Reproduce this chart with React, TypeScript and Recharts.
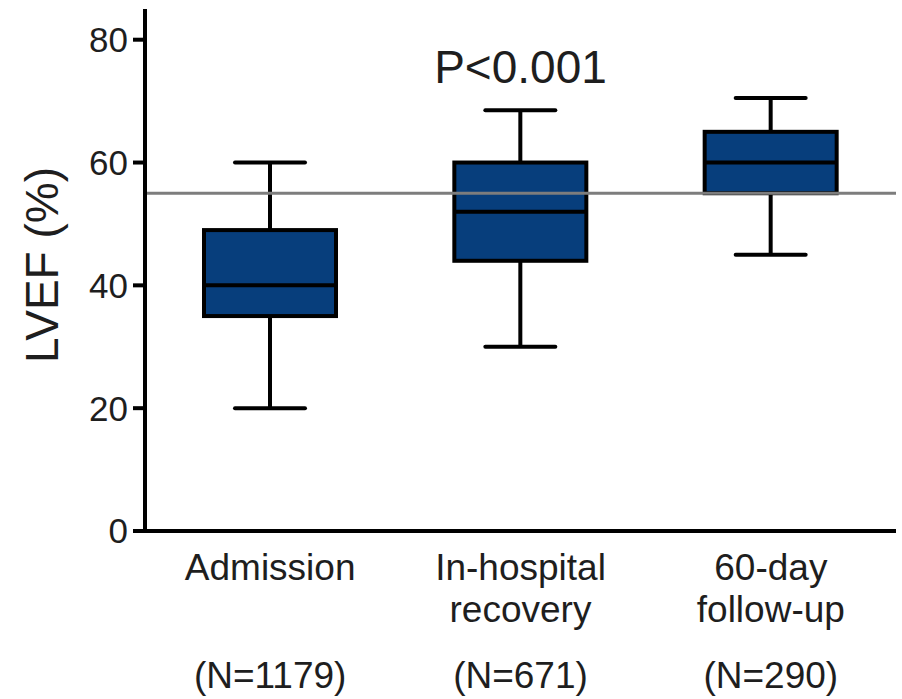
import { BarChart, Bar, XAxis, YAxis, ReferenceLine, ReferenceDot } from 'recharts';

const categories = ['Admission', 'In-hospital\nrecovery', '60-day\nfollow-up'];
const nLabels = ['(N=1179)', '(N=671)', '(N=290)'];
const whiskerLow = [20, 30, 45];
const q1 = [35, 44, 55];
const median = [40, 52, 60];
const q3 = [49, 60, 65];
const whiskerHigh = [60, 68.5, 70.5];
const yTicks = [0, 20, 40, 60, 80];
const normalLimit = 55;

const FONT = '"Liberation Sans", Arial, Helvetica, sans-serif';
const BOX_FILL = '#073e7c';

const data = categories.map((name, i) => ({
    name,
    range: [whiskerLow[i], whiskerHigh[i]],
    q1: q1[i],
    median: median[i],
    q3: q3[i],
    low: whiskerLow[i],
    high: whiskerHigh[i],
}));

// range bar gives y (top = high) and height (down to low); map the other stats along it
function BoxShape(props: any) {
    const { x, y, width, height, payload } = props;
    const { low, high } = payload;
    const toY = (v: number) => y + ((high - v) / (high - low)) * height;
    const cx = x + width / 2;
    const capHalf = 35;
    const yHigh = toY(high);
    const yLow = toY(low);
    const yQ3 = toY(payload.q3);
    const yQ1 = toY(payload.q1);
    const yMed = toY(payload.median);
    return (
        <g>
            <line x1={cx} x2={cx} y1={yHigh} y2={yQ3} stroke="#000" strokeWidth={4} />
            <line x1={cx} x2={cx} y1={yQ1} y2={yLow} stroke="#000" strokeWidth={4} />
            <line x1={cx - capHalf} x2={cx + capHalf} y1={yHigh} y2={yHigh} stroke="#000" strokeWidth={4} strokeLinecap="round" />
            <line x1={cx - capHalf} x2={cx + capHalf} y1={yLow} y2={yLow} stroke="#000" strokeWidth={4} strokeLinecap="round" />
            <rect x={x} y={yQ3} width={width} height={yQ1 - yQ3} fill={BOX_FILL} stroke="#000" strokeWidth={4} />
            <line x1={x} x2={x + width} y1={yMed} y2={yMed} stroke="#000" strokeWidth={4} />
        </g>
    );
}

function XTick(props: any) {
    const { x, y, payload } = props;
    const idx = categories.indexOf(payload.value);
    const lines = String(payload.value).split('\n');
    return (
        <g>
            {lines.map((l, i) => (
                <text key={i} x={x} y={y + 49 + i * 42} textAnchor="middle" fontSize={37} fontFamily={FONT} fill="#1e1e1e">
                    {l}
                </text>
            ))}
            <text x={x} y={y + 157} textAnchor="middle" fontSize={37} fontFamily={FONT} fill="#1e1e1e">
                {nLabels[idx]}
            </text>
        </g>
    );
}

function YLabel(props: any) {
    const { viewBox } = props;
    const cx = viewBox.x + 58;
    const cy = viewBox.y + viewBox.height / 2 - 5;
    return (
        <text x={cx} y={cy} transform={`rotate(-90 ${cx} ${cy})`} textAnchor="middle" fontSize={46} fontFamily={FONT} fill="#1e1e1e">
            LVEF (%)
        </text>
    );
}

function PLabel(props: any) {
    const { viewBox } = props;
    return (
        <text x={viewBox.x} y={viewBox.y} textAnchor="middle" fontSize={46} fontFamily={FONT} fill="#1e1e1e">
            P&lt;0.001
        </text>
    );
}

export default function App() {
    return (
        <div style={{ position: 'absolute', left: 0, top: 0, width: 902, height: 699, background: '#fff' }}>
            <BarChart width={902} height={699} data={data} margin={{ top: 9, right: 6, left: 0, bottom: 8 }}>
                <XAxis
                    dataKey="name"
                    interval={0}
                    tickLine={false}
                    tickSize={0}
                    tickMargin={0}
                    height={160}
                    axisLine={{ stroke: '#000', strokeWidth: 4 }}
                    tick={<XTick />}
                />
                <YAxis
                    type="number"
                    domain={[0, 85]}
                    ticks={yTicks}
                    width={145}
                    tickSize={12}
                    tickMargin={5}
                    axisLine={{ stroke: '#000', strokeWidth: 4 }}
                    tickLine={{ stroke: '#000', strokeWidth: 4 }}
                    tick={{ fontSize: 35, fontFamily: FONT, fill: '#1e1e1e' }}
                    label={<YLabel />}
                />
                <ReferenceLine y={normalLimit} stroke="#7d7d7d" strokeWidth={3} />
                <Bar dataKey="range" barSize={132} shape={<BoxShape />} isAnimationActive={false} />
                <ReferenceDot
                    x={categories[1]}
                    y={73}
                    r={0}
                    fill="none"
                    stroke="none"
                    ifOverflow="visible"
                    label={<PLabel />}
                />
            </BarChart>
        </div>
    );
}
